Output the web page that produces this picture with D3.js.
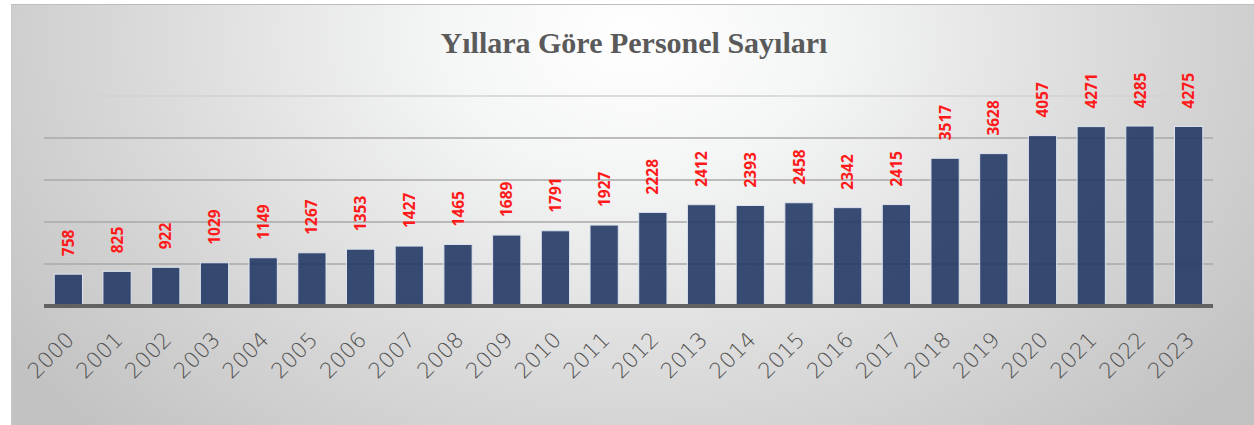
<!DOCTYPE html>
<html><head><meta charset="utf-8">
<script src="https://cdn.jsdelivr.net/npm/d3@7"></script>
<style>html,body{margin:0;padding:0;background:#fff;}svg{display:block;}</style>
</head><body>
<svg id="chart" width="1254" height="425"></svg>
<script>
const title = "Yıllara Göre Personel Sayıları";
const years = ["2000","2001","2002","2003","2004","2005","2006","2007","2008","2009","2010","2011","2012","2013","2014","2015","2016","2017","2018","2019","2020","2021","2022","2023"];
const personnel = [758,825,922,1029,1149,1267,1353,1427,1465,1689,1791,1927,2228,2412,2393,2458,2342,2415,3517,3628,4057,4271,4285,4275];
const gridTicks = [1000,2000,3000,4000,5000];

const svg = d3.select("#chart");
const W = 1254, H = 425;
const frame = {x:11, y:4, w:1243, h:421};
const plot = {left:44, right:1213, top:96, bottom:306};

const defs = svg.append("defs");
const grad = defs.append("radialGradient").attr("id","bg")
  .attr("cx","0.5").attr("cy","0.08").attr("r","0.62")
  .attr("gradientTransform","translate(0.5,0.08) scale(1,2.1) translate(-0.5,-0.08)");
grad.append("stop").attr("offset","0").attr("stop-color","#ffffff");
grad.append("stop").attr("offset","0.25").attr("stop-color","#f4f5f5");
grad.append("stop").attr("offset","0.6").attr("stop-color","#dcdcdc");
grad.append("stop").attr("offset","1").attr("stop-color","#c2c2c2");

svg.append("rect").attr("x",frame.x).attr("y",frame.y).attr("width",frame.w).attr("height",frame.h)
  .attr("fill","url(#bg)");
svg.append("line").attr("x1",frame.x).attr("x2",W).attr("y1",frame.y+0.5).attr("y2",frame.y+0.5)
  .attr("stroke","#bdbdbd").attr("stroke-width",1);
svg.append("line").attr("x1",frame.x+0.5).attr("x2",frame.x+0.5).attr("y1",frame.y).attr("y2",H)
  .attr("stroke","#c8c8c8").attr("stroke-width",1);

const x = d3.scaleBand().domain(years).range([plot.left, plot.right]).paddingInner(0.42).paddingOuter(0.21);
const y = d3.scaleLinear().domain([0,5000]).range([plot.bottom, plot.top]);

// gridlines
svg.append("g").selectAll("line").data(gridTicks).join("line")
  .attr("x1",plot.left).attr("x2",plot.right)
  .attr("y1",d=>y(d)).attr("y2",d=>y(d))
  .attr("stroke",d=>d===5000?"#d2d2d2":"#a9a9a9").attr("stroke-width",1.3);

// bars
svg.append("g").selectAll("rect").data(personnel).join("rect")
  .attr("x",(d,i)=>x(years[i]))
  .attr("y",d=>y(d))
  .attr("width",x.bandwidth())
  .attr("height",d=>y(0)-y(d))
  .attr("fill","#1f3462").attr("fill-opacity",0.88)
  .attr("stroke","#dde4ef").attr("stroke-width",1);

// axis line
svg.append("line").attr("x1",plot.left).attr("x2",plot.right)
  .attr("y1",plot.bottom).attr("y2",plot.bottom)
  .attr("stroke","#626262").attr("stroke-width",4);

// value labels
svg.append("g").selectAll("text").data(personnel).join("text")
  .attr("transform",(d,i)=>`translate(${x(years[i])+x.bandwidth()/2},${y(d)-18}) rotate(-90)`)
  .attr("dy","0.36em")
  .attr("text-anchor","start")
  .attr("font-family","'Open Sans', 'Liberation Sans', sans-serif")
  .attr("font-weight","bold").attr("font-size","15.5px")
  .attr("fill","#ff1a1a")
  .text(d=>d);

// x tick labels
const xAxis = d3.axisBottom(x).tickSize(0).tickPadding(0);
const gx = svg.append("g").attr("transform",`translate(0,${plot.bottom})`).call(xAxis);
gx.select(".domain").remove();
gx.selectAll("text")
  .attr("transform","translate(7,35) rotate(-45)")
  .attr("text-anchor","end")
  .attr("dy","0")
  .attr("font-family","'DejaVu Sans', sans-serif")
  .attr("font-weight","200").attr("font-size","21.5px")
  .attr("fill","#505050");

// title
svg.append("text").attr("x",634).attr("y",53).attr("text-anchor","middle")
  .attr("font-family","'Liberation Serif', 'Times New Roman', serif")
  .attr("font-weight","bold").attr("font-size","30px")
  .attr("fill","#5a5a5a").text(title);
</script>
</body></html>
